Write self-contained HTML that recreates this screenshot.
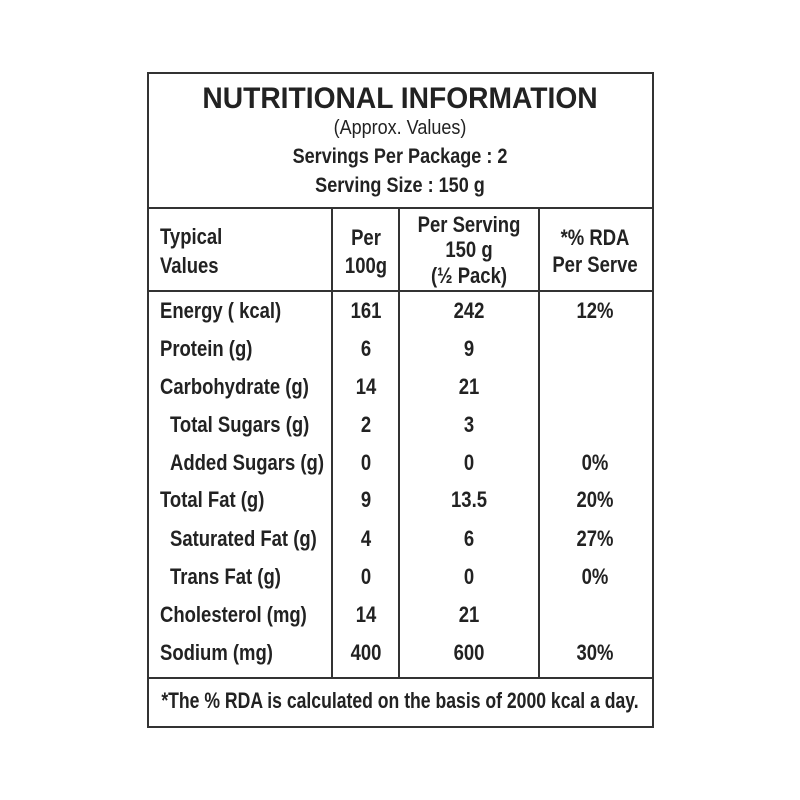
<!DOCTYPE html><html><head><style>
body{margin:0;background:#fff;width:800px;height:800px;position:relative;overflow:hidden;font-family:"Liberation Sans",sans-serif;color:#1a1a1a}
.b{position:absolute;background:#333}
.t{position:absolute;white-space:nowrap;line-height:30px;height:30px;font-size:22px;font-weight:bold;color:#222}
.c{transform:translateX(-50%) scaleX(.84)}
.l{transform-origin:0 50%;transform:scaleX(.84)}
</style></head><body>
<div style="position:absolute;left:147px;top:72px;width:503px;height:652px;border:2px solid #333"></div>
<div class="b" style="left:147px;top:207px;width:505px;height:2px"></div>
<div class="b" style="left:147px;top:290px;width:505px;height:2px"></div>
<div class="b" style="left:147px;top:677px;width:505px;height:2px"></div>
<div class="b" style="left:331px;top:207px;width:2px;height:472px"></div>
<div class="b" style="left:398px;top:207px;width:2px;height:472px"></div>
<div class="b" style="left:538px;top:207px;width:2px;height:472px"></div>

<div class="t" style="left:400px;top:82px;font-size:30px;line-height:34px;height:34px;transform:translateX(-50%) scaleX(.94)">NUTRITIONAL INFORMATION</div>
<div class="t" style="left:400px;top:113px;font-size:20px;font-weight:normal;transform:translateX(-50%) scaleX(.9)">(Approx. Values)</div>
<div class="t" style="left:400px;top:142px;font-size:21px;transform:translateX(-50%) scaleX(.86)">Servings Per Package : 2</div>
<div class="t" style="left:400px;top:171px;font-size:21px;transform:translateX(-50%) scaleX(.86)">Serving Size : 150 g</div>

<div class="t l" style="left:160px;top:222px">Typical</div>
<div class="t l" style="left:160px;top:251px">Values</div>
<div class="t c" style="left:366px;top:223px">Per</div>
<div class="t c" style="left:366px;top:251px">100g</div>
<div class="t c" style="left:469px;top:210px">Per Serving</div>
<div class="t c" style="left:469px;top:235px">150 g</div>
<div class="t c" style="left:469px;top:261px">(½ Pack)</div>
<div class="t c" style="left:595px;top:223px">*% RDA</div>
<div class="t c" style="left:595px;top:250px">Per Serve</div>

<div class="t l" style="left:160px;top:296px">Energy ( kcal)</div><div class="t c" style="left:366px;top:296px">161</div><div class="t c" style="left:469px;top:296px">242</div><div class="t c" style="left:595px;top:296px">12%</div>
<div class="t l" style="left:160px;top:334px">Protein (g)</div><div class="t c" style="left:366px;top:334px">6</div><div class="t c" style="left:469px;top:334px">9</div>
<div class="t l" style="left:160px;top:372px">Carbohydrate (g)</div><div class="t c" style="left:366px;top:372px">14</div><div class="t c" style="left:469px;top:372px">21</div>
<div class="t l" style="left:170px;top:410px">Total Sugars (g)</div><div class="t c" style="left:366px;top:410px">2</div><div class="t c" style="left:469px;top:410px">3</div>
<div class="t l" style="left:170px;top:448px">Added Sugars (g)</div><div class="t c" style="left:366px;top:448px">0</div><div class="t c" style="left:469px;top:448px">0</div><div class="t c" style="left:595px;top:448px">0%</div>
<div class="t l" style="left:160px;top:485px">Total Fat (g)</div><div class="t c" style="left:366px;top:485px">9</div><div class="t c" style="left:469px;top:485px">13.5</div><div class="t c" style="left:595px;top:485px">20%</div>
<div class="t l" style="left:170px;top:524px">Saturated Fat (g)</div><div class="t c" style="left:366px;top:524px">4</div><div class="t c" style="left:469px;top:524px">6</div><div class="t c" style="left:595px;top:524px">27%</div>
<div class="t l" style="left:170px;top:562px">Trans Fat (g)</div><div class="t c" style="left:366px;top:562px">0</div><div class="t c" style="left:469px;top:562px">0</div><div class="t c" style="left:595px;top:562px">0%</div>
<div class="t l" style="left:160px;top:600px">Cholesterol (mg)</div><div class="t c" style="left:366px;top:600px">14</div><div class="t c" style="left:469px;top:600px">21</div>
<div class="t l" style="left:160px;top:638px">Sodium (mg)</div><div class="t c" style="left:366px;top:638px">400</div><div class="t c" style="left:469px;top:638px">600</div><div class="t c" style="left:595px;top:638px">30%</div>

<div class="t" style="left:400px;top:686px;transform:translateX(-50%) scaleX(.8)">*The % RDA is calculated on the basis of 2000 kcal a day.</div>
</body></html>
